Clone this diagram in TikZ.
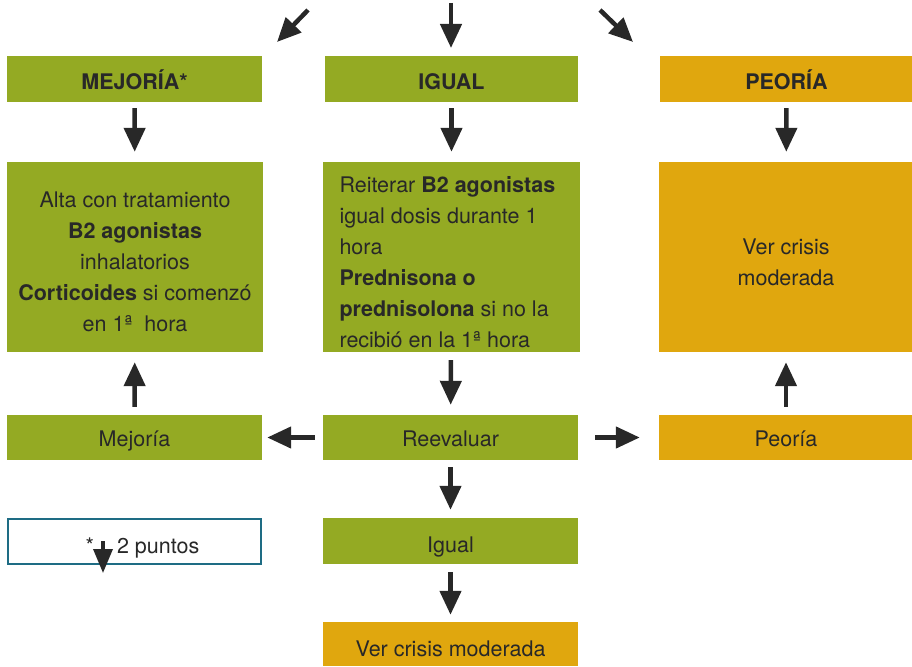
\documentclass[tikz,border=0pt]{standalone}
\usepackage{fontspec}
\setmainfont{TeX Gyre Heros}
\usetikzlibrary{arrows.meta,positioning}

\definecolor{verde}{RGB}{148,170,35}
\definecolor{oro}{RGB}{224,167,14}
\definecolor{azul}{RGB}{30,108,132}
\definecolor{texto}{RGB}{40,40,40}

\tikzset{
  caja/.style={shape=rectangle, fill=verde, text=texto, inner sep=0pt,
               font=\fontsize{21.5}{31}\selectfont, text depth=0pt, text height=17.5pt},
  cajaoro/.style={caja, fill=oro},
  baja/.style={text height=#1},
  texto/.style={text=texto, font=\fontsize{21.5}{31}\selectfont},
  flecha/.style={line width=4.5pt, color=texto,
                 -{Triangle[width=21pt,length=24pt]}},
}

\begin{document}
\begin{tikzpicture}[x=1pt, y=-1pt]
      \useasboundingbox (0,0) rectangle (912,666);

      % primera fila
      \node[caja, baja=21.5pt, minimum width=255pt, minimum height=46pt] (Mej) at (134.5,79) {\textbf{MEJORÍA*}};
      \node[caja, baja=21.5pt, minimum width=253pt, minimum height=46pt] (Igu) at (451.5,79) {\textbf{IGUAL}};
      \node[cajaoro, baja=21.5pt, minimum width=253pt, minimum height=46pt] (Peo) at (786.5,79) {\textbf{PEORÍA}};

      % tratamientos
      \node[caja, minimum width=256pt, minimum height=190pt] (Alta) at (135,257) {};
      \node[texto, align=center] (AltaTxt) at (135,262) {Alta con tratamiento\\ \textbf{B2 agonistas}\\ inhalatorios\\
           \textbf{Corticoides} si comenzó\\ en 1ª\ \ hora};
      \node[caja, minimum width=257pt, minimum height=190pt] (Reit) at (451.5,257) {};
      \node[texto, align=left, anchor=west] (ReitTxt) at (336,262) {Reiterar \textbf{B2 agonistas}\\ igual dosis durante 1\\ hora\\
           \textbf{Prednisona o}\\ \textbf{prednisolona} si no la\\ recibió en la 1ª hora};
      \node[cajaoro, minimum width=254pt, minimum height=190pt] (Ver) at (786,257) {};
      \node[texto, align=center] (VerTxt) at (786,262) {Ver crisis\\ moderada};

      % segunda fila
      \node[caja, minimum width=255pt, minimum height=45pt] (Mejr) at (134.5,437.5) {Mejoría};
      \node[caja, minimum width=255pt, minimum height=45pt] (Reev) at (450.5,437.5) {Reevaluar};
      \node[cajaoro, minimum width=254pt, minimum height=45pt] (Peor) at (786,437.5) {Peoría};

      % nota y final
      \node[caja, baja=23pt, fill=white, draw=azul, line width=1.6pt, minimum width=253pt, minimum height=45pt]
           (Pts) at (134.5,541.5) {\hspace*{16pt}*\hspace{23pt}2 puntos};
      \node[caja, baja=22pt, minimum width=255pt, minimum height=46pt] (Igual) at (450.5,541) {Igual};
      \node[cajaoro, baja=25.5pt, minimum width=255pt, minimum height=44pt] (Crisis) at (450.5,644) {Ver crisis moderada};

      \coordinate (SrcL) at (308,10);
      \coordinate (SrcC) at (451,3);
      \coordinate (SrcR) at (600,10);
      \coordinate (DstL) at (277,42);
      \coordinate (DstC) at (451,48);
      \coordinate (DstR) at (633,42);
      \coordinate (BajaA) at (103,541);
      \coordinate (BajaB) at (103,573);

      \draw[flecha] (SrcL) -- (DstL);
      \draw[flecha] (SrcC) -- (DstC);
      \draw[flecha] (SrcR) -- (DstR);
      \draw[flecha, shorten <=6pt, shorten >=10pt] (Mej) -- (Alta);
      \draw[flecha, shorten <=6pt, shorten >=10pt] (Igu) -- (Reit);
      \draw[flecha, shorten <=6pt, shorten >=10pt] (Peo) -- (Ver);
      \draw[flecha, shorten <=8pt, shorten >=10pt] (Reit) -- (Reev);
      \draw[flecha, shorten <=8pt, shorten >=10pt] (Mejr) -- (Alta);
      \draw[flecha, shorten <=8pt, shorten >=10pt] (Peor) -- (Ver);
      \draw[flecha, shorten <=8pt, shorten >=5pt] (Reev) -- (Mejr);
      \draw[flecha, shorten <=17pt, shorten >=19pt] (Reev) -- (Peor);
      \draw[flecha, shorten <=7pt, shorten >=8pt] (Reev) -- (Igual);
      \draw[flecha, shorten <=8pt, shorten >=7pt] (Igual) -- (Crisis);
      \draw[flecha, line width=3.5pt, -{Triangle[width=19pt,length=24pt]}] (BajaA) -- (BajaB);
\end{tikzpicture}
\end{document}
